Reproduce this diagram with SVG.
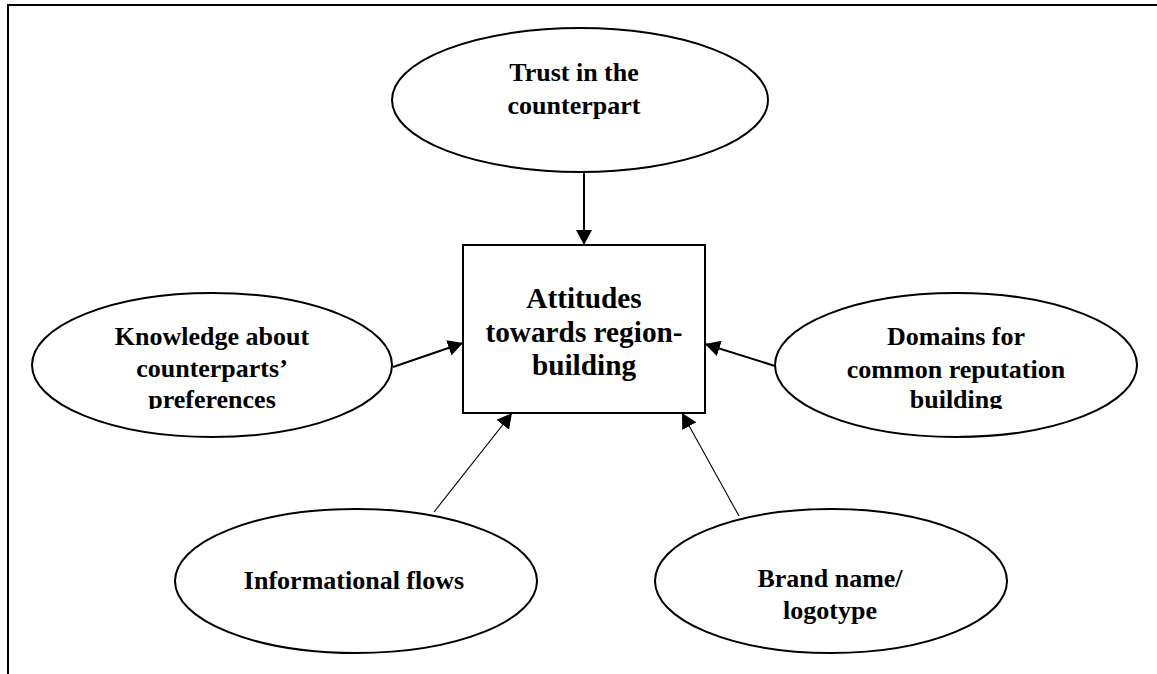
<svg xmlns="http://www.w3.org/2000/svg" width="1157" height="674" viewBox="0 0 1157 674">
  <style>
    .shape { fill: #ffffff; stroke: #000000; stroke-width: 2; }
    .lbl { font-family: "Liberation Serif", "Times New Roman", serif; font-weight: bold; font-size: 26px; fill: #000000; text-anchor: middle; }
    .big { font-size: 29.3px; }
    .thick { stroke: #000000; stroke-width: 2; fill: none; }
    .thin { stroke: #000000; stroke-width: 1.1; fill: none; }
  </style>
  <defs>
    <marker id="arrow" viewBox="0 0 15 16" refX="15" refY="8" markerWidth="15" markerHeight="16" markerUnits="userSpaceOnUse" orient="auto">
      <path d="M0,0 L15,8 L0,16 Z" fill="#000000"/>
    </marker>
    <clipPath id="clipLeft"><rect x="30" y="290" width="370" height="119"/></clipPath>
    <clipPath id="clipRight"><rect x="770" y="290" width="370" height="119"/></clipPath>
  </defs>

  <rect x="0" y="0" width="1157" height="674" fill="#ffffff"/>

  <g id="frame">
    <line x1="7" y1="5" x2="1157" y2="5" stroke="#000" stroke-width="2.2"/>
    <line x1="8" y1="4" x2="8" y2="674" stroke="#000" stroke-width="2"/>
  </g>

  <g id="connectors">
    <line class="thick" x1="584" y1="172" x2="584" y2="245" marker-end="url(#arrow)"/>
    <line class="thick" x1="393" y1="367" x2="463" y2="343" marker-end="url(#arrow)"/>
    <line class="thick" x1="775" y1="366" x2="705" y2="344" marker-end="url(#arrow)"/>
    <line class="thin" x1="434" y1="512" x2="512" y2="413" marker-end="url(#arrow)"/>
    <line class="thin" x1="739" y1="516" x2="682" y2="413" marker-end="url(#arrow)"/>
  </g>

  <g id="node-trust">
    <ellipse class="shape" cx="580" cy="100" rx="188" ry="72"/>
    <text class="lbl" x="574" y="81">Trust in the</text>
    <text class="lbl" x="574" y="114">counterpart</text>
  </g>

  <g id="node-attitudes">
    <rect class="shape" x="463" y="245" width="242" height="168"/>
    <text class="lbl big" x="584" y="308">Attitudes</text>
    <text class="lbl big" x="584" y="342">towards region-</text>
    <text class="lbl big" x="584" y="375">building</text>
  </g>

  <g id="node-knowledge">
    <ellipse class="shape" cx="212" cy="365" rx="180" ry="72"/>
    <g clip-path="url(#clipLeft)">
      <text class="lbl" x="212" y="345">Knowledge about</text>
      <text class="lbl" x="212" y="377">counterparts’</text>
      <text class="lbl" x="212" y="408">preferences</text>
    </g>
  </g>

  <g id="node-domains">
    <ellipse class="shape" cx="956" cy="365" rx="181" ry="72"/>
    <g clip-path="url(#clipRight)">
      <text class="lbl" x="956" y="345">Domains for</text>
      <text class="lbl" x="956" y="378">common reputation</text>
      <text class="lbl" x="956" y="408">building</text>
    </g>
  </g>

  <g id="node-informational">
    <ellipse class="shape" cx="356" cy="581" rx="181" ry="72"/>
    <text class="lbl" x="354" y="589">Informational flows</text>
  </g>

  <g id="node-brand">
    <ellipse class="shape" cx="831" cy="581" rx="176" ry="72"/>
    <text class="lbl" x="830" y="587">Brand name/</text>
    <text class="lbl" x="830" y="619">logotype</text>
  </g>
</svg>
